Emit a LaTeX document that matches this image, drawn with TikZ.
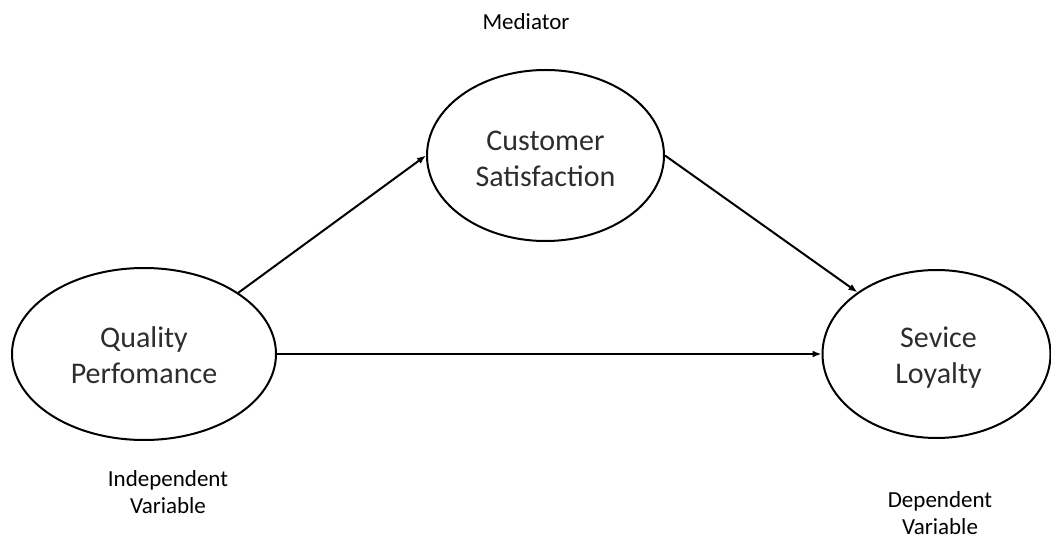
\documentclass[tikz,border=0pt]{standalone}
\usepackage{fontspec}
\setmainfont{Carlito}
\usetikzlibrary{shapes.geometric,arrows.meta}
\begin{document}
\begin{tikzpicture}[x=1bp,y=-1bp,
  construct/.style={ellipse, draw, line width=2bp, inner sep=0pt},
  caption/.style={align=center, inner sep=0pt,
    text={rgb,255:red,45;green,45;blue,45},
    font=\fontsize{30bp}{36bp}\selectfont},
  role/.style={align=center, inner sep=0pt, text=black,
    font=\fontsize{23bp}{27bp}\selectfont},
  path/.style={line width=2bp, -{Latex[length=9bp,width=7bp]}}]
  \useasboundingbox (0,0) rectangle (1051,539);
  % latent constructs
  \node[construct, minimum width=264bp, minimum height=172bp] (qp) at (144,354) {};
  \node[construct, minimum width=237bp, minimum height=171bp] (cs) at (545.5,155.5) {};
  \node[construct, minimum width=228bp, minimum height=168bp] (sl) at (936.5,354) {};
  % construct names
  \node[caption] (qp-name) at ([yshift=-1bp]qp.center) {Quality\\Perfomance};
  \node[caption] (cs-name) at ([yshift=-3bp]cs.center) {Customer\\Satisfaction};
  \node[caption] (sl-name) at ([xshift=2bp,yshift=-4bp]sl.center) {Sevice\\Loyalty};
  % role labels
  \node[role] (med) at (526,22) {Mediator};
  \node[role] (iv) at (168,492) {Independent\\Variable};
  \node[role] (dv) at (940,513) {Dependent\\Variable};
  % hypothesised paths
  \draw[path] (qp.33) -- (cs.west);
  \draw[path] (cs.east) -- (sl.142);
  \draw[path] (qp.east) -- (sl.west);
\end{tikzpicture}
\end{document}
